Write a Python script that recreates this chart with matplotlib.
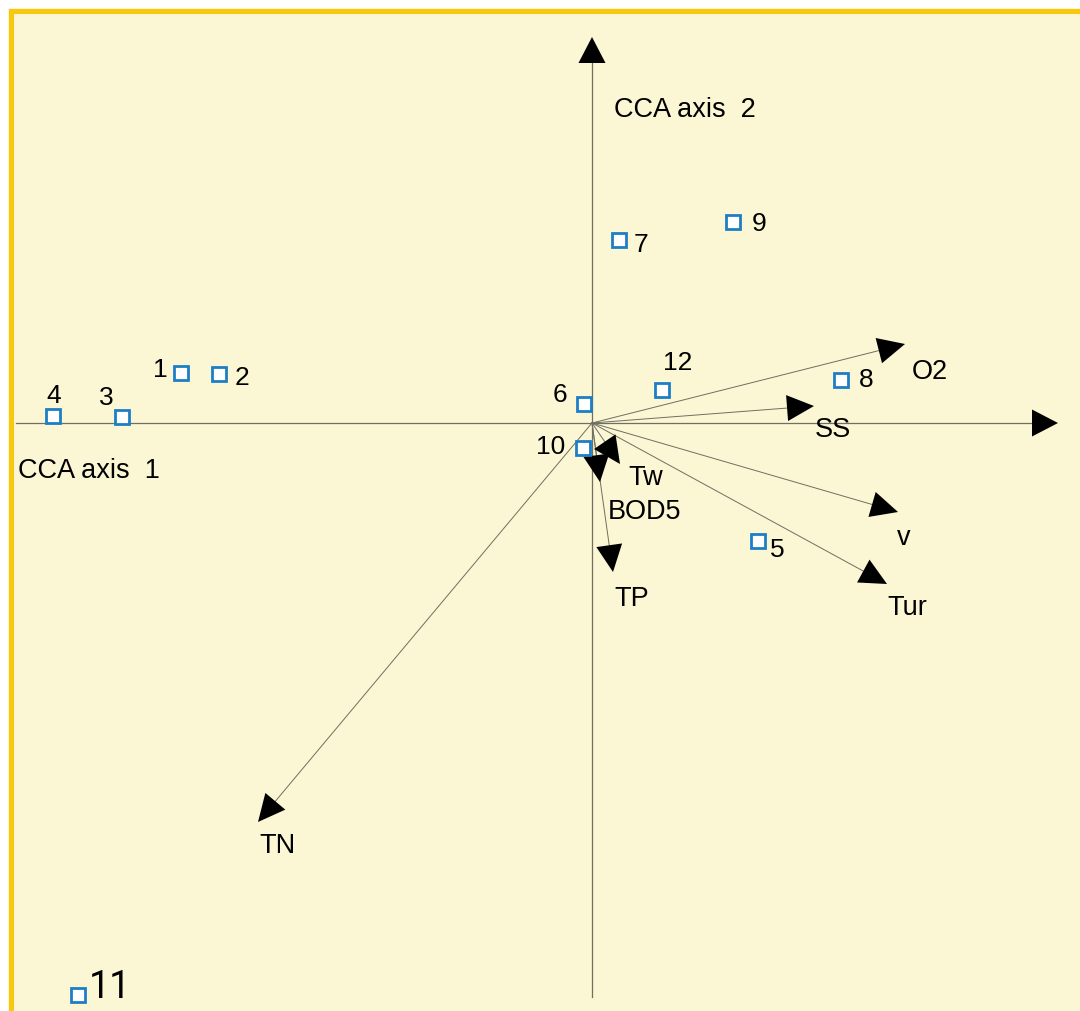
import numpy as np
import matplotlib.pyplot as plt
from matplotlib.patches import Rectangle

plt.rcParams['font.family'] = ['Liberation Sans', 'DejaVu Sans']

# CCA site scores
sites = ['1', '2', '3', '4', '5', '6', '7', '8', '9', '10', '11', '12']
site_x = [-4.11, -3.73, -4.70, -5.39, 1.66, -0.08, 0.27, 2.49, 1.41, -0.09, -5.14, 0.70]
site_y = [0.50, 0.49, 0.06, 0.07, -1.18, 0.19, 1.83, 0.43, 2.01, -0.25, -5.72, 0.33]

# environmental variable biplot scores
env_vars = ['O2', 'SS', 'v', 'Tur', 'TP', 'TN', 'Tw', 'BOD5']
env_x = [3.13, 2.22, 3.06, 2.95, 0.21, -3.34, 0.28, 0.08]
env_y = [0.79, 0.17, -0.89, -1.61, -1.49, -3.99, -0.41, -0.59]

# label offsets in pixels
site_off = [(-21, 4), (23, -3), (-16, 20), (1, 21), (19, -8), (-24, 10),
            (22, -4), (25, 1), (26, -1), (-32, 2), (32, 8), (16, 28)]
env_off = [(25, -27), (19, -23), (6, -25), (20, -23), (19, -26), (20, -23),
           (26, -13), (45, -29)]

bg = '#FBF6D3'
gold = '#F9C80E'
line_col = '#6f6f62'
head_w, head_l = 0.26, 0.27

fig = plt.figure(figsize=(10.8, 10.12), dpi=100, facecolor='white')
ax = fig.add_axes([0, 0, 1, 1])
ax.set_xlim(-5.92, 4.88)
ax.set_ylim(-5.88, 4.24)
ax.axis('off')

# panel background and border
W, H = 1080, 1012
fig.patches.append(Rectangle((8 / W, 0), 1, 1 - 9 / H, transform=fig.transFigure,
                             facecolor=bg, edgecolor='none', zorder=-10))
fig.lines.append(plt.Line2D([10.5 / W, 10.5 / W], [0, 1 - 11.5 / H], transform=fig.transFigure,
                            color=gold, lw=3.6, solid_capstyle='projecting', zorder=-5))
fig.lines.append(plt.Line2D([10.5 / W, 1], [1 - 11.5 / H, 1 - 11.5 / H], transform=fig.transFigure,
                            color=gold, lw=3.6, solid_capstyle='projecting', zorder=-5))

# ordination axes
ax.plot([-5.76, 4.40], [0, 0], color=line_col, lw=0.9, zorder=1)
ax.plot([0, 0], [-5.74, 3.60], color=line_col, lw=0.9, zorder=1)
ax.arrow(4.40, 0, 0.26, 0, width=0, head_width=0.27, head_length=0.26,
         length_includes_head=True, fc='black', ec='none', zorder=3)
ax.arrow(0, 3.60, 0, 0.26, width=0, head_width=0.27, head_length=0.26,
         length_includes_head=True, fc='black', ec='none', zorder=3)
ax.annotate('CCA axis  1', (-5.92, 0), xytext=(18, -47), textcoords='offset pixels',
            fontsize=19.5, ha='left', va='center')
ax.annotate('CCA axis  2', (0, 3.60), xytext=(22, -46), textcoords='offset pixels',
            fontsize=19.5, ha='left', va='center')

# environmental arrows
for name, x, y, (ox, oy) in zip(env_vars, env_x, env_y, env_off):
    length = np.hypot(x, y)
    bx, by = x * (1 - head_l / length), y * (1 - head_l / length)
    ax.plot([0, bx], [0, by], color=line_col, lw=0.7, zorder=2)
    ax.arrow(bx, by, x - bx, y - by, width=0, head_width=head_w, head_length=head_l,
             length_includes_head=True, fc='black', ec='none', zorder=3)
    ax.annotate(name, (x, y), xytext=(ox, oy), textcoords='offset pixels',
                fontsize=19.5, ha='center', va='center')

# sites
ax.plot(site_x, site_y, 's', ms=9.5, mfc='white', mec='#1C7EC4', mew=2.0,
        ls='none', zorder=4)
for name, x, y, (ox, oy) in zip(sites, site_x, site_y, site_off):
    if name == '11':
        ax.annotate(name, (x, y), xytext=(ox, oy), textcoords='offset pixels',
                    fontsize=27, ha='center', va='center', family=['Roboto', 'DejaVu Sans'])
    else:
        ax.annotate(name, (x, y), xytext=(ox, oy), textcoords='offset pixels',
                    fontsize=19, ha='center', va='center')

plt.savefig('out.png', dpi=100, facecolor='white')
